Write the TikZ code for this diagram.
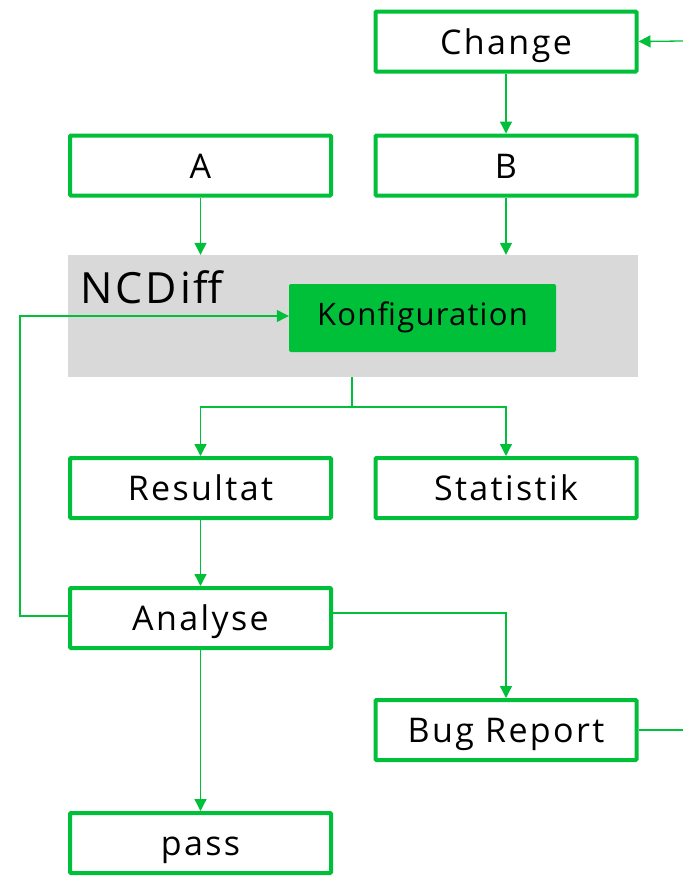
\documentclass[tikz,border=0pt]{standalone}
\usepackage{fontspec}
\setmainfont{Open Sans}
\newfontfamily\stagefont[LetterSpace=7]{Open Sans}
\newfontfamily\konffont[LetterSpace=4]{Open Sans}
\usetikzlibrary{arrows.meta}
\definecolor{ncgreen}{RGB}{0,192,58}
\definecolor{ncgray}{RGB}{217,217,217}
\tikzset{
  stage/.style={draw=ncgreen, line width=4pt, fill=white, rounded corners=1pt,
    minimum width=261pt, minimum height=60pt, inner sep=0pt,
    text height=25pt, text depth=0pt,
    font=\stagefont\fontsize{34}{40}\selectfont},
  flow/.style={draw=ncgreen, line width=1.3pt,
    -{Triangle[length=12pt,width=12pt]}},
  plain/.style={draw=ncgreen, line width=1.3pt},
}
\begin{document}
\begin{tikzpicture}[x=1pt,y=-1pt]
  \useasboundingbox (0,0) rectangle (683,876);
  \clip (0,0) rectangle (683,876);
  % tool container
  \node[fill=ncgray, minimum width=570pt, minimum height=122pt, inner sep=0pt]
    (ncdiff) at (353,316) {};
  \node[anchor=base west, font=\stagefont\fontsize{43}{50}\selectfont, inner sep=0pt]
    (ncdifflabel) at (80,303) {NCDiff};
  \node[fill=ncgreen, rounded corners=2pt, minimum width=267pt, minimum height=68pt,
    inner sep=0pt, text height=22pt, text depth=8pt,
    font=\konffont\fontsize{31}{36}\selectfont] (konf) at (422.5,318) {Konfiguration};
  % stages
  \node[stage] (change) at (506,41.5) {Change};
  \node[stage] (a) at (200.5,165.5) {A};
  \node[stage] (b) at (506,165.5) {B};
  \node[stage] (res) at (200.5,488) {Resultat};
  \node[stage] (stat) at (506,488) {Statistik};
  \node[stage] (ana) at (200.5,618) {Analyse};
  \node[stage] (bug) at (506,730) {Bug Report};
  \node[stage] (pass) at (200.5,843) {pass};
  % free ends and bends
  \coordinate (inchange) at (683,41);
  \coordinate (outbug) at (683,730);
  \coordinate (split) at (352,407);
  \coordinate (loopL) at (20,616);
  \coordinate (loopT) at (20,316);
  % connectors
  \draw[flow] (inchange) -- (change.east);
  \draw[flow] (change.south) -- (b.north);
  \draw[flow] (a.south) -- (a.south |- ncdiff.north);
  \draw[flow] (b.south) -- (b.south |- ncdiff.north);
  \draw[plain] (ncdiff.south -| split) -- (split);
  \draw[flow] (split) -| (res.north);
  \draw[flow] (split) -| (stat.north);
  \draw[flow] (res.south) -- (ana.north);
  \draw[flow] (ana.west |- loopL) -- (loopL) -- (loopT) -- (konf.west |- loopT);
  \draw[flow] (ana.east |- 0,613) -| (bug.north);
  \draw[flow] (ana.south) -- (pass.north);
  \draw[plain] (bug.east) -- (outbug);
\end{tikzpicture}
\end{document}
